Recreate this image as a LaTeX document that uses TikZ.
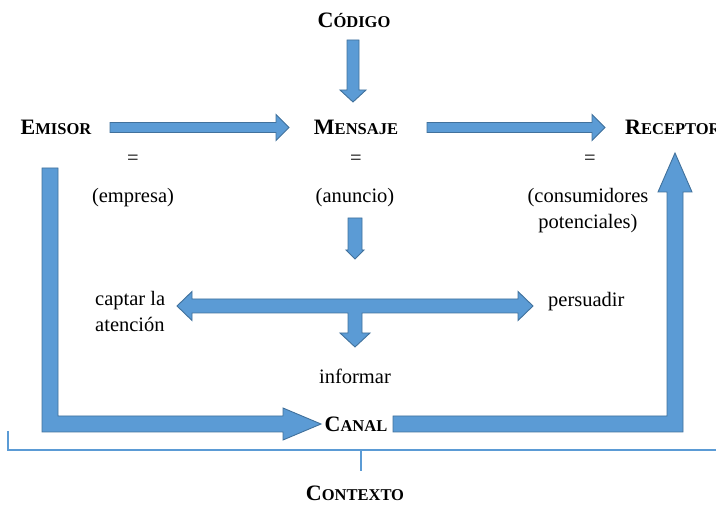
\documentclass[tikz,border=0pt]{standalone}
\usepackage{fontspec}
\setmainfont{Liberation Serif}
\usetikzlibrary{positioning}
\definecolor{arrowblue}{HTML}{5B9BD5}
\definecolor{arrowedge}{HTML}{41719C}
\definecolor{ctxline}{HTML}{5B9BD5}
% fake small caps: first letter full size, rest smaller
\newcommand{\scword}[2]{#1{\fontsize{16.5}{26}\selectfont #2}}
\tikzset{
    lbl/.style={font=\fontsize{20.5}{26}\selectfont, inner sep=0pt},
    title/.style={font=\bfseries\fontsize{22}{26}\selectfont, inner sep=0pt},
    blockarrow/.style={fill=arrowblue, draw=arrowedge, line width=0.9pt, line join=miter},
    ctx/.style={draw=ctxline, line width=2pt}
}
\begin{document}
\begin{tikzpicture}[x=1pt, y=-1pt]
    \useasboundingbox (0,0) rectangle (716,505);
    % main elements
    \node [title] (codigo) at (354,20) {\scword{C}{ÓDIGO}};
    \node [title] (emisor) at (56,127) {\scword{E}{MISOR}};
    \node [title] (mensaje) at (356,127) {\scword{M}{ENSAJE}};
    \node [title, anchor=west] (receptor) at (625,127) {\scword{R}{ECEPTOR}};
    \node [title] (canal) at (356,424) {\scword{C}{ANAL}};
    \node [title] (contexto) at (355,493) {\scword{C}{ONTEXTO}};
    % equivalences
    \node [lbl] (eqa) at (133,160) {=};
    \node [lbl] (eqb) at (356,160) {=};
    \node [lbl] (eqc) at (590,160) {=};
    \node [lbl] (empresa) at (133,198) {(empresa)};
    \node [lbl] (anuncio) at (355,198) {(anuncio)};
    \node [lbl, align=center] (consumidores) at (588,211) {(consumidores\\potenciales)};
    % purposes
    \node [lbl, align=left, anchor=west] (captar) at (95,311) {captar la\\atención};
    \node [lbl, anchor=west] (persuadir) at (548,302) {persuadir};
    \node [lbl] (informar) at (355,376) {informar};

    % codigo -> mensaje
    \draw [blockarrow] (347,40) -- (359,40) -- (359,90) -- (366,90) -- (353,102)
        -- (340,90) -- (347,90) -- cycle;
    % emisor -> mensaje
    \draw [blockarrow] (110,122.5) -- (276,122.5) -- (276,114.5) -- (289,127.5)
        -- (276,140.5) -- (276,132.5) -- (110,132.5) -- cycle;
    % mensaje -> receptor
    \draw [blockarrow] (427,122.5) -- (592,122.5) -- (592,114.5) -- (605,127.5)
        -- (592,140.5) -- (592,132.5) -- (427,132.5) -- cycle;
    % anuncio -> purposes
    \draw [blockarrow] (348,218) -- (362,218) -- (362,250) -- (364,250) -- (355,259)
        -- (346,250) -- (348,250) -- cycle;
    \draw [blockarrow] (177,306) -- (192,291.5) -- (192,299) -- (518,299) -- (518,291.5)
        -- (533,306) -- (518,320.5) -- (518,313) -- (362,313) -- (362,333) -- (370,333)
        -- (355,347) -- (340,333) -- (348,333) -- (348,313) -- (192,313) -- (192,320.5) -- cycle;
    % emisor -> canal
    \draw [blockarrow] (42,168) -- (58,168) -- (58,416) -- (283,416) -- (283,408)
        -- (321,424) -- (283,440) -- (283,432) -- (42,432) -- cycle;
    % canal -> receptor
    \draw [blockarrow] (393,416) -- (667,416) -- (667,192) -- (658,192) -- (675,153)
        -- (692,192) -- (683,192) -- (683,432) -- (393,432) -- cycle;

    % context bracket
    \draw [ctx] (8,431) -- (8,450) -- (720,450);
    \draw [ctx] (361,450) -- (361,471);
\end{tikzpicture}
\end{document}
